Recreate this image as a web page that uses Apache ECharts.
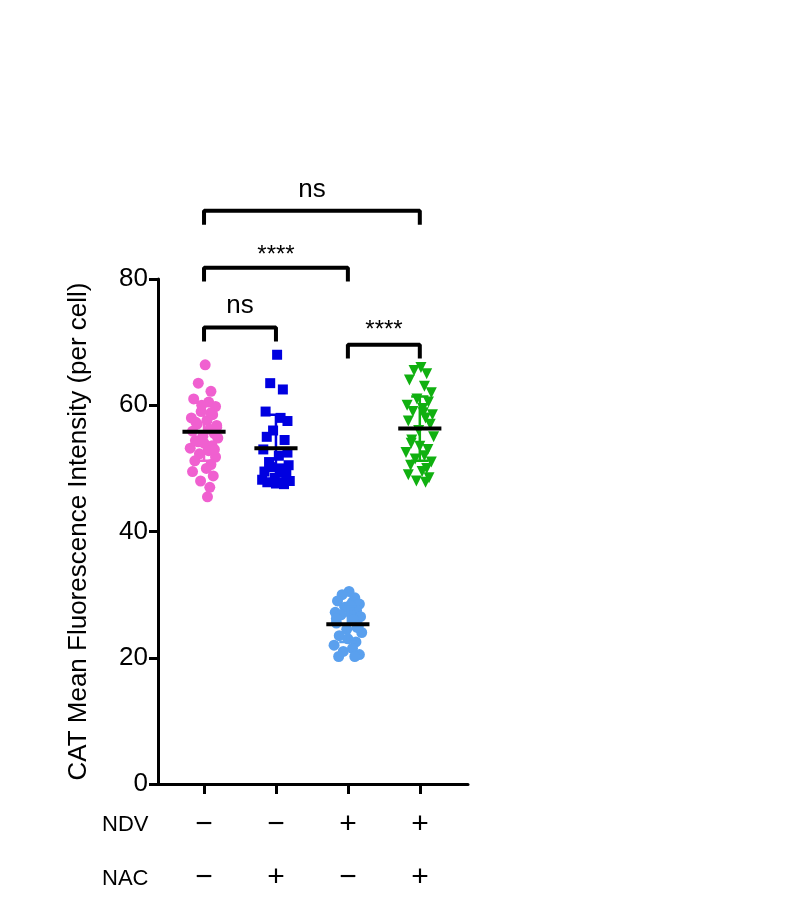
<!DOCTYPE html>
<html>
<head>
<meta charset="utf-8">
<title>CAT</title>
<script src="https://cdn.jsdelivr.net/npm/echarts@6/dist/echarts.min.js"></script>
</head>
<body style="margin:0;background:#fff">
<div id="main" style="width:797px;height:917px;"></div>
<script type="text/javascript">
// group values (y)
var pink = [66.4,63.5,62.2,61,60.5,59.8,59,58.5,58,57.6,57,56.5,56.2,55.9,55.5,55.1,54.8,54.4,54,53.6,53.2,52.8,52.3,51.8,51.2,50.6,50,49.5,48.8,48,47,45.5,57.3,56.8,54.2,53,60,58.8];
var blue = [68,63.5,62.5,59,58,57.5,56,54.5,53,52,51,50.5,50,49.5,49,48.5,48,47.8,47.6,47.5,48.2,49.3,50.2,52.5,55,47.7];
var lightBlue = [30.5,30,29.5,29,28.8,28.5,28,27.5,27.2,27,26.8,26.5,26,25.5,25,24.5,24,23.5,23,22.5,22,21.5,21,20.5,20.2,20.2,28.3,26.2,24.8];
var green = [66,65.5,65,64,63,62,61,60.5,60,59.5,59,58.5,58,57.5,57,56,55,54,53.5,53,52.5,52,51.5,51,50.5,50,49.5,49,48.5,48,47.8,58.8,54.5];
// horizontal spread of points (hand picked)
var jitter = [0.02,-0.1,0.12,-0.18,0.08,0.2,-0.05,0.15,-0.22,0.05,-0.12,0.22,0.1,-0.2,0.18,-0.02,0.24,-0.15,0.0,0.14,-0.24,0.08,-0.08,0.2,-0.16,0.12,0.04,-0.2,0.16,-0.06,0.1,0.06,-0.14,0.22,-0.1,0.18,-0.04,0.12,-0.18,0.02];
var means = [55.8, 53.2, 25.3, 56.3];
var sds = [4.6, 5.3, 2.8, 5.1];
var ndv = ['−','−','+','+'];
var nac = ['−','+','−','+'];

function pts(arr, cx) {
  return arr.map(function (v, i) { return [cx + 0.8 * jitter[i % jitter.length], v]; });
}
function segs(list) {
  var out = [];
  list.forEach(function (s) { s.forEach(function (p) { out.push(p); }); out.push(['-', '-']); });
  return out;
}
// brackets: [x1, x2, y]
var brackets = [[1, 4, 90.8], [1, 3, 81.8], [1, 2, 72.3], [3, 4, 69.6]];
var blackSegs = [];
brackets.forEach(function (b) {
  blackSegs.push([[b[0], b[2] - 2.2], [b[0], b[2]], [b[1], b[2]], [b[1], b[2] - 2.2]]);
});
means.forEach(function (m, i) {
  blackSegs.push([[i + 1 - 0.3, m], [i + 1 + 0.3, m]]);
});
var colors = ['#f060d0', '#0000e0', '#5aa0ee', '#10b010'];
function sdSeg(i) {
  var c = i + 1, m = means[i], s = sds[i];
  return segs([[[c, m - s], [c, m + s]], [[c - 0.12, m + s], [c + 0.12, m + s]], [[c - 0.12, m - s], [c + 0.12, m - s]]]);
}

var chart = echarts.init(document.getElementById('main'));
var font = 'Arial, "Liberation Sans", sans-serif';
chart.setOption({
  animation: false,
  grid: { left: 158, right: 329, top: 279, bottom: 133 },
  xAxis: {
    type: 'value', min: 0.36, max: 4.67,
    splitLine: { show: false },
    axisLine: { lineStyle: { color: '#000', width: 3 } },
    axisTick: { show: true, customValues: [1, 2, 3, 4], length: 10, lineStyle: { color: '#000', width: 3 } },
    axisLabel: { show: false }
  },
  yAxis: {
    type: 'value', min: 0, max: 80, interval: 20,
    splitLine: { show: false },
    name: 'CAT Mean Fluorescence Intensity (per cell)',
    nameLocation: 'middle', nameGap: 66,
    nameTextStyle: { fontSize: 26, color: '#000', fontFamily: font },
    axisLine: { show: true, lineStyle: { color: '#000', width: 3 } },
    axisTick: { show: true, length: 9, lineStyle: { color: '#000', width: 3 } },
    axisLabel: { fontSize: 26, color: '#000', fontFamily: font, margin: 10 }
  },
  graphic: [
    { type: 'text', left: 102, top: 814, style: { text: 'NDV', fontSize: 22, fontFamily: font, fill: '#000' } },
    { type: 'text', left: 102, top: 868, style: { text: 'NAC', fontSize: 22, fontFamily: font, fill: '#000' } }
  ].concat(ndv.map(function (t, i) {
    return { type: 'text', x: 204 + 72 * i, y: 825, style: { text: t, fontSize: 30, fontFamily: font, fill: '#000', align: 'center', verticalAlign: 'middle' } };
  })).concat(nac.map(function (t, i) {
    return { type: 'text', x: 204 + 72 * i, y: 878, style: { text: t, fontSize: 30, fontFamily: font, fill: '#000', align: 'center', verticalAlign: 'middle' } };
  })).concat([
    { type: 'text', x: 312, y: 190, style: { text: 'ns', fontSize: 26, fontFamily: font, fill: '#000', align: 'center', verticalAlign: 'middle' } },
    { type: 'text', x: 276, y: 255, style: { text: '****', fontSize: 24, fontFamily: font, fill: '#000', align: 'center', verticalAlign: 'middle' } },
    { type: 'text', x: 240, y: 306, style: { text: 'ns', fontSize: 26, fontFamily: font, fill: '#000', align: 'center', verticalAlign: 'middle' } },
    { type: 'text', x: 384, y: 330, style: { text: '****', fontSize: 24, fontFamily: font, fill: '#000', align: 'center', verticalAlign: 'middle' } }
  ]),
  series: [
    { type: 'scatter', data: pts(pink, 1), symbol: 'circle', symbolSize: 11, itemStyle: { color: colors[0], opacity: 1 } },
    { type: 'scatter', data: pts(blue, 2), symbol: 'rect', symbolSize: 10, itemStyle: { color: colors[1], opacity: 1 } },
    { type: 'scatter', data: pts(lightBlue, 3), symbol: 'circle', symbolSize: 11, itemStyle: { color: colors[2], opacity: 1 } },
    { type: 'scatter', data: pts(green, 4), symbol: 'triangle', symbolRotate: 180, symbolSize: 11, itemStyle: { color: colors[3], opacity: 1 } }
  ].concat([0, 1, 2, 3].map(function (i) {
    return { type: 'line', data: sdSeg(i), showSymbol: false, connectNulls: false, clip: false, lineStyle: { color: colors[i], width: 2.5 } };
  })).concat([
    { type: 'line', data: segs(blackSegs), showSymbol: false, connectNulls: false, clip: false, z: 5, lineStyle: { color: '#000', width: 4 } }
  ])
});
</script>
</body>
</html>
